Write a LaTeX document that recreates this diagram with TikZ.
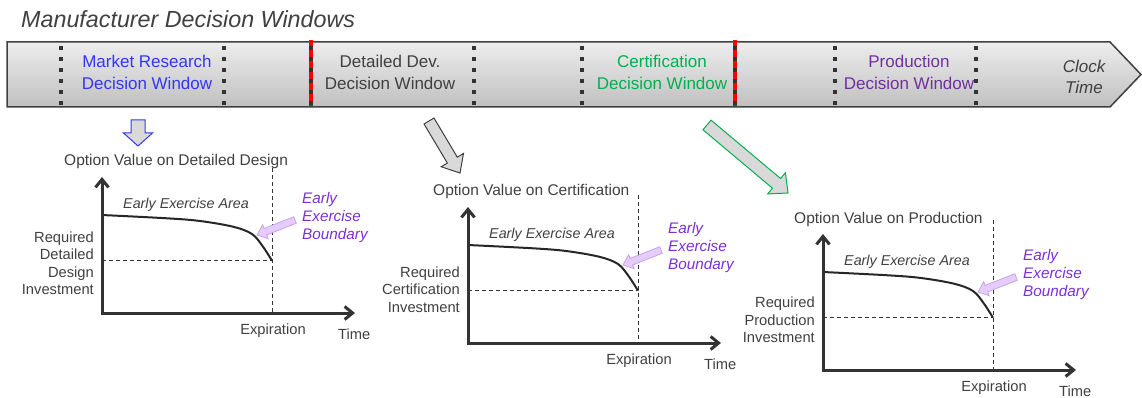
\documentclass[tikz,border=0pt]{standalone}
\usepackage{fontspec}
\setmainfont{Liberation Sans}
\usetikzlibrary{calc,arrows.meta}
\definecolor{tg}{HTML}{404040}
\definecolor{axc}{HTML}{333333}
\definecolor{mblue}{HTML}{3535F5}
\definecolor{mgreen}{HTML}{00B050}
\definecolor{mpurple}{HTML}{7030A0}
\definecolor{bpurple}{HTML}{7B2FD6}
\definecolor{pinkf}{HTML}{E5CCFA}
\definecolor{pinkd}{HTML}{C8A2EE}
\definecolor{arrf}{HTML}{D9D9D9}
\definecolor{bartop}{HTML}{EDEDED}
\definecolor{barbot}{HTML}{C0C0C0}
\definecolor{dotc}{HTML}{333333}
\definecolor{redc}{HTML}{FF0000}

\newcommand\blockarr[6]{%
  \coordinate (hb) at ($(#2)!#5!(#1)$);
  \draw[#6] ($(#1)!#3!90:(#2)$) -- ($(hb)!#3!90:(#2)$) -- ($(hb)!#4!90:(#2)$) -- (#2)
    -- ($(hb)!#4!-90:(#2)$) -- ($(hb)!#3!-90:(#2)$) -- ($(#1)!#3!-90:(#2)$) -- cycle;}

\newcommand\chart[8]{%
\begin{scope}[shift={(#2,#3)}]
  \coordinate (#1o) at (0,0);
  \coordinate (#1yt) at (0,-136);
  \coordinate (#1xt) at (253,0);
  \coordinate (#1e) at (170,-52.3);
  \coordinate (#1et) at (170,#6);
  \coordinate (#1eb) at (170,0);
  \coordinate (#1ey) at (0,-52.3);
  \draw[dline] (#1et) -- (#1eb);
  \draw[dline] (#1ey) -- (#1e);
  \draw[curve] plot[smooth,tension=.55] coordinates {(0,-98) (65,-94.7) (98,-92) (131,-86.3) (150,-79) (161,-66.3) (170,-52.3)};
  \draw[axis] (#1yt) -- (#1o) -- (#1xt);
  \node[ctitle, anchor=base west] (#1t) at (#5,-147) {#4};
  \node[eatext] (#1ea) at (84,-108) {Early Exercise Area};
  \node[bdtext, anchor=west] (#1bd) at (200,-95) {Early\\Exercise\\Boundary};
  \node[ctext, anchor=east, align=right] (#1rq) at (-8,#8) {#7};
  \node[ctext, anchor=base] (#1ex) at (171,21) {Expiration};
  \node[ctext, anchor=base west] (#1tm) at (236,26) {Time};
  \coordinate (#1pa) at (193,-93);
  \coordinate (#1pb) at (155,-78);
  \blockarr{#1pa}{#1pb}{3.5pt}{7.5pt}{9pt}{pinkarr}
\end{scope}}

\begin{document}
\begin{tikzpicture}[x=1pt,y=-1pt,
  blabel/.style={align=center, inner sep=0, font=\fontsize{17}{21.5}\selectfont},
  ctitle/.style={inner sep=0, text=tg, font=\fontsize{15.5}{18}\selectfont},
  ctext/.style={inner sep=0, text=tg, font=\fontsize{14.7}{17.5}\selectfont},
  eatext/.style={inner sep=0, text=tg, font=\fontsize{14.3}{17}\selectfont\itshape},
  bdtext/.style={inner sep=0, align=left, text=bpurple, font=\fontsize{15.3}{18}\selectfont\itshape},
  dline/.style={draw=axc, line width=0.8pt, dash pattern=on 4pt off 3pt},
  curve/.style={draw=black!85, line width=2pt},
  axis/.style={draw=axc, line width=3pt, line join=miter, {Straight Barb[length=8pt,width=13pt]}-{Straight Barb[length=8pt,width=13pt]}},
  pinkarr/.style={fill=pinkf, draw=pinkd, line width=0.8pt, line join=miter},
  bigarr/.style={fill=arrf, line width=1pt, line join=miter},
  sepdots/.style={draw=dotc, line width=4pt, dash pattern=on 4pt off 7pt},
  sepred/.style={draw=redc, line width=4pt}
]
\useasboundingbox (0,0) rectangle (1142,398);

% title
\node[anchor=base west, inner sep=0, text=tg, font=\fontsize{23.3}{27}\selectfont\itshape] (title) at (21,28) {Manufacturer Decision Windows};

% time bar
\draw[draw=tg, line width=1.5pt, top color=bartop, bottom color=barbot]
  (7,42) -- (1110,42) -- (1141,74.5) -- (1110,107) -- (7,107) -- cycle;

% separators
\foreach \sx in {61,224,474,582,835,976}
  \draw[sepdots] (\sx,46) -- (\sx,106);
\foreach \sx in {311,735}{
  \draw[sepred] (\sx,40) -- (\sx,106);
  \draw[sepdots] (\sx,46) -- (\sx,106);}

% bar labels
\node[blabel, text=mblue] (mr) at (147,72.5) {Market Research\\Decision Window};
\node[blabel, text=tg] (dd) at (390,72.5) {Detailed Dev.\\Decision Window};
\node[blabel, text=mgreen] (ce) at (662,72.5) {Certification\\Decision Window};
\node[blabel, text=mpurple] (pr) at (909,72.5) {Production\\Decision Window};
\node[blabel, text=tg, font=\fontsize{17}{20.5}\selectfont\itshape] (ck) at (1084,77) {Clock\\Time};

% big arrows
\coordinate (ba1) at (138,120);
\coordinate (ba2) at (138,146);
\blockarr{ba1}{ba2}{7pt}{14.5pt}{13pt}{bigarr, draw=mblue}
\coordinate (ga1) at (429,121);
\coordinate (ga2) at (460,173);
\blockarr{ga1}{ga2}{5.8pt}{13pt}{15pt}{bigarr, draw=tg}
\coordinate (gr1) at (707,125);
\coordinate (gr2) at (788,193);
\blockarr{gr1}{gr2}{6.3pt}{13.8pt}{15pt}{bigarr, draw=mgreen}

% charts
\chart{a}{102}{313}{Option Value on Detailed Design}{-38}{-145}{Required\\Detailed\\Design\\Investment}{-50}
\chart{b}{468}{343}{Option Value on Certification}{-35}{-148}{Required\\Certification\\Investment}{-53.5}
\chart{c}{823}{370}{Option Value on Production}{-29}{-150}{Required\\Production\\Investment}{-50}

\end{tikzpicture}
\end{document}
